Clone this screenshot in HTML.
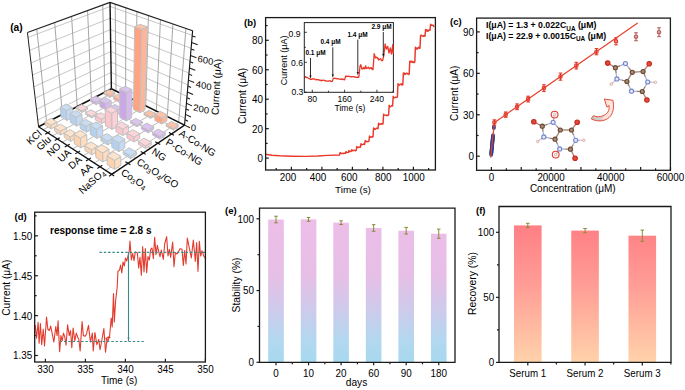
<!DOCTYPE html>
<html><head><meta charset="utf-8"><style>
html,body{margin:0;padding:0;background:#fff;}
svg{display:block;font-family:"Liberation Sans",sans-serif;}
</style></head><body>
<svg width="685" height="390" viewBox="0 0 685 390">
<rect width="685" height="390" fill="#fff"/>
<text id="t1" x="10.2" y="30.6" font-size="10.2" text-anchor="start" font-weight="bold" fill="#000" >(a)</text>
<polygon points="38.55,126.73 111.38,88.77 110.03,2.36 27.44,32.51" fill="#fff"/>
<polygon points="111.38,88.77 184.56,125.15 192.62,30.66 110.03,2.36" fill="#fff"/>
<line x1="37.77" y1="120.11" x2="111.28" y2="82.32" stroke="#b4b4b4" stroke-width="0.75" />
<line x1="111.28" y1="82.32" x2="185.15" y2="118.3" stroke="#b4b4b4" stroke-width="0.75" />
<line x1="36.5" y1="109.35" x2="111.12" y2="72.33" stroke="#b4b4b4" stroke-width="0.75" />
<line x1="111.12" y1="72.33" x2="186.07" y2="107.5" stroke="#b4b4b4" stroke-width="0.75" />
<line x1="35.19" y1="98.26" x2="110.96" y2="62.08" stroke="#b4b4b4" stroke-width="0.75" />
<line x1="110.96" y1="62.08" x2="187.02" y2="96.38" stroke="#b4b4b4" stroke-width="0.75" />
<line x1="33.85" y1="86.84" x2="110.8" y2="51.55" stroke="#b4b4b4" stroke-width="0.75" />
<line x1="110.8" y1="51.55" x2="187.99" y2="84.91" stroke="#b4b4b4" stroke-width="0.75" />
<line x1="32.46" y1="75.05" x2="110.63" y2="40.73" stroke="#b4b4b4" stroke-width="0.75" />
<line x1="110.63" y1="40.73" x2="189" y2="73.09" stroke="#b4b4b4" stroke-width="0.75" />
<line x1="31.02" y1="62.9" x2="110.45" y2="29.62" stroke="#b4b4b4" stroke-width="0.75" />
<line x1="110.45" y1="29.62" x2="190.04" y2="60.9" stroke="#b4b4b4" stroke-width="0.75" />
<line x1="29.54" y1="50.36" x2="110.27" y2="18.19" stroke="#b4b4b4" stroke-width="0.75" />
<line x1="110.27" y1="18.19" x2="191.11" y2="48.31" stroke="#b4b4b4" stroke-width="0.75" />
<line x1="28.02" y1="37.41" x2="110.09" y2="6.44" stroke="#b4b4b4" stroke-width="0.75" />
<line x1="110.09" y1="6.44" x2="192.22" y2="35.31" stroke="#b4b4b4" stroke-width="0.75" />
<line x1="46.68" y1="122.49" x2="36.78" y2="29.1" stroke="#9c9c9c" stroke-width="0.9" />
<line x1="62.33" y1="114.34" x2="54.67" y2="22.57" stroke="#9c9c9c" stroke-width="0.9" />
<line x1="77.21" y1="106.58" x2="71.58" y2="16.4" stroke="#9c9c9c" stroke-width="0.9" />
<line x1="91.37" y1="99.2" x2="87.58" y2="10.56" stroke="#9c9c9c" stroke-width="0.9" />
<line x1="104.87" y1="92.16" x2="102.74" y2="5.02" stroke="#9c9c9c" stroke-width="0.9" />
<line x1="116.04" y1="91.08" x2="115.21" y2="4.14" stroke="#9c9c9c" stroke-width="0.9" />
<line x1="125.59" y1="95.83" x2="125.87" y2="7.79" stroke="#9c9c9c" stroke-width="0.9" />
<line x1="135.48" y1="100.75" x2="136.95" y2="11.59" stroke="#9c9c9c" stroke-width="0.9" />
<line x1="145.71" y1="105.84" x2="148.46" y2="15.53" stroke="#9c9c9c" stroke-width="0.9" />
<line x1="156.32" y1="111.11" x2="160.44" y2="19.64" stroke="#9c9c9c" stroke-width="0.9" />
<line x1="167.31" y1="116.57" x2="172.91" y2="23.91" stroke="#9c9c9c" stroke-width="0.9" />
<line x1="178.7" y1="122.24" x2="185.91" y2="28.37" stroke="#9c9c9c" stroke-width="0.9" />
<line x1="43.14" y1="129.71" x2="116.04" y2="91.08" stroke="#aaaaaa" stroke-width="0.8" />
<line x1="52.57" y1="135.85" x2="125.59" y2="95.83" stroke="#aaaaaa" stroke-width="0.8" />
<line x1="62.37" y1="142.23" x2="135.48" y2="100.75" stroke="#aaaaaa" stroke-width="0.8" />
<line x1="72.57" y1="148.86" x2="145.71" y2="105.84" stroke="#aaaaaa" stroke-width="0.8" />
<line x1="83.19" y1="155.77" x2="156.32" y2="111.11" stroke="#aaaaaa" stroke-width="0.8" />
<line x1="94.25" y1="162.97" x2="167.31" y2="116.57" stroke="#aaaaaa" stroke-width="0.8" />
<line x1="105.79" y1="170.47" x2="178.7" y2="122.24" stroke="#aaaaaa" stroke-width="0.8" />
<line x1="46.68" y1="122.49" x2="120" y2="168.77" stroke="#aaaaaa" stroke-width="0.8" />
<line x1="62.33" y1="114.34" x2="135.8" y2="158.1" stroke="#aaaaaa" stroke-width="0.8" />
<line x1="77.21" y1="106.58" x2="150.71" y2="148.02" stroke="#aaaaaa" stroke-width="0.8" />
<line x1="91.37" y1="99.2" x2="164.8" y2="138.5" stroke="#aaaaaa" stroke-width="0.8" />
<line x1="104.87" y1="92.16" x2="178.15" y2="129.48" stroke="#aaaaaa" stroke-width="0.8" />
<line x1="27.44" y1="32.51" x2="110.03" y2="2.36" stroke="#222" stroke-width="1.1" />
<line x1="110.03" y1="2.36" x2="192.62" y2="30.66" stroke="#222" stroke-width="1.1" />
<line x1="38.55" y1="126.73" x2="27.44" y2="32.51" stroke="#222" stroke-width="1.0" />
<line x1="111.38" y1="88.77" x2="110.03" y2="2.36" stroke="#111" stroke-width="1.4" />
<line x1="111.38" y1="88.77" x2="38.55" y2="126.73" stroke="#111" stroke-width="1.5" />
<line x1="111.38" y1="88.77" x2="184.56" y2="125.15" stroke="#111" stroke-width="1.5" />
<line x1="184.56" y1="125.15" x2="192.62" y2="30.66" stroke="#111" stroke-width="1.1" />
<line x1="184.56" y1="125.15" x2="189.93" y2="127.82" stroke="#1a1a1a" stroke-width="1.05" />
<line x1="185.02" y1="119.82" x2="188.01" y2="121.28" stroke="#1a1a1a" stroke-width="1.05" />
<line x1="185.48" y1="114.4" x2="190.94" y2="117.02" stroke="#1a1a1a" stroke-width="1.05" />
<line x1="185.95" y1="108.91" x2="188.99" y2="110.34" stroke="#1a1a1a" stroke-width="1.05" />
<line x1="186.42" y1="103.33" x2="191.97" y2="105.89" stroke="#1a1a1a" stroke-width="1.05" />
<line x1="186.91" y1="97.67" x2="190" y2="99.07" stroke="#1a1a1a" stroke-width="1.05" />
<line x1="187.4" y1="91.92" x2="193.04" y2="94.41" stroke="#1a1a1a" stroke-width="1.05" />
<line x1="187.89" y1="86.08" x2="191.04" y2="87.44" stroke="#1a1a1a" stroke-width="1.05" />
<line x1="188.4" y1="80.14" x2="194.14" y2="82.57" stroke="#1a1a1a" stroke-width="1.05" />
<line x1="188.91" y1="74.12" x2="192.12" y2="75.44" stroke="#1a1a1a" stroke-width="1.05" />
<line x1="189.44" y1="68" x2="195.28" y2="70.36" stroke="#1a1a1a" stroke-width="1.05" />
<line x1="189.97" y1="61.78" x2="193.23" y2="63.06" stroke="#1a1a1a" stroke-width="1.05" />
<line x1="190.5" y1="55.46" x2="196.45" y2="57.74" stroke="#1a1a1a" stroke-width="1.05" />
<line x1="191.05" y1="49.04" x2="194.37" y2="50.28" stroke="#1a1a1a" stroke-width="1.05" />
<line x1="191.61" y1="42.51" x2="197.67" y2="44.71" stroke="#1a1a1a" stroke-width="1.05" />
<line x1="192.17" y1="35.88" x2="195.56" y2="37.07" stroke="#1a1a1a" stroke-width="1.05" />
<polygon points="104.08,94.37 109.96,97.39 109.93,95.41 104.03,92.4" fill="#ffa382" stroke="#c2c2c2" stroke-width="1.0" stroke-linejoin="round"/>
<polygon points="109.96,97.39 114.97,94.71 114.95,92.74 109.93,95.41" fill="#ffb698" stroke="#c2c2c2" stroke-width="1.0" stroke-linejoin="round"/>
<polygon points="104.03,92.4 109.93,95.41 114.95,92.74 109.06,89.78" fill="#ffc2a8" stroke="#c2c2c2" stroke-width="1.0" stroke-linejoin="round"/>
<polygon points="90.46,101.51 96.34,104.69 96.24,102.17 90.35,99.01" fill="#caa8e8" stroke="#c2c2c2" stroke-width="1.0" stroke-linejoin="round"/>
<polygon points="96.34,104.69 101.59,101.87 101.52,99.37 96.24,102.17" fill="#d6baee" stroke="#c2c2c2" stroke-width="1.0" stroke-linejoin="round"/>
<polygon points="90.35,99.01 96.24,102.17 101.52,99.37 95.62,96.27" fill="#dcc4f0" stroke="#c2c2c2" stroke-width="1.0" stroke-linejoin="round"/>
<polygon points="113.54,99.23 119.63,102.35 119.61,99.85 113.51,96.74" fill="#ffa382" stroke="#c2c2c2" stroke-width="1.0" stroke-linejoin="round"/>
<polygon points="119.63,102.35 124.63,99.58 124.64,97.09 119.61,99.85" fill="#ffb698" stroke="#c2c2c2" stroke-width="1.0" stroke-linejoin="round"/>
<polygon points="113.51,96.74 119.61,99.85 124.64,97.09 118.53,94.04" fill="#ffc2a8" stroke="#c2c2c2" stroke-width="1.0" stroke-linejoin="round"/>
<polygon points="76.16,109.01 82.02,112.35 81.94,110.82 76.06,107.49" fill="#fbc6cc" stroke="#c2c2c2" stroke-width="1.0" stroke-linejoin="round"/>
<polygon points="82.02,112.35 87.55,109.39 87.47,107.87 81.94,110.82" fill="#fcd0d6" stroke="#c2c2c2" stroke-width="1.0" stroke-linejoin="round"/>
<polygon points="76.06,107.49 81.94,110.82 87.47,107.87 81.59,104.61" fill="#fdd6dc" stroke="#c2c2c2" stroke-width="1.0" stroke-linejoin="round"/>
<polygon points="99.91,106.62 105.99,109.9 105.84,103.57 99.71,100.33" fill="#caa8e8" stroke="#c2c2c2" stroke-width="1.0" stroke-linejoin="round"/>
<polygon points="105.99,109.9 111.25,106.99 111.15,100.7 105.84,103.57" fill="#d6baee" stroke="#c2c2c2" stroke-width="1.0" stroke-linejoin="round"/>
<polygon points="99.71,100.33 105.84,103.57 111.15,100.7 105.01,97.51" fill="#dcc4f0" stroke="#c2c2c2" stroke-width="1.0" stroke-linejoin="round"/>
<polygon points="123.33,104.26 129.63,107.49 129.65,104.97 123.33,101.74" fill="#ffa382" stroke="#c2c2c2" stroke-width="1.0" stroke-linejoin="round"/>
<polygon points="129.63,107.49 134.63,104.62 134.67,102.11 129.65,104.97" fill="#ffb698" stroke="#c2c2c2" stroke-width="1.0" stroke-linejoin="round"/>
<polygon points="123.33,101.74 129.65,104.97 134.67,102.11 128.35,98.95" fill="#ffc2a8" stroke="#c2c2c2" stroke-width="1.0" stroke-linejoin="round"/>
<polygon points="61.14,116.89 66.97,120.4 66.2,110.48 60.29,107.03" fill="#b4d2f0" stroke="#c2c2c2" stroke-width="1.0" stroke-linejoin="round"/>
<polygon points="66.97,120.4 72.78,117.3 72.1,107.42 66.2,110.48" fill="#c2daf3" stroke="#c2c2c2" stroke-width="1.0" stroke-linejoin="round"/>
<polygon points="60.29,107.03 66.2,110.48 72.1,107.42 66.18,104.04" fill="#c8ddf4" stroke="#c2c2c2" stroke-width="1.0" stroke-linejoin="round"/>
<polygon points="85.59,114.38 91.67,117.84 91.6,116.3 85.51,112.85" fill="#fbc6cc" stroke="#c2c2c2" stroke-width="1.0" stroke-linejoin="round"/>
<polygon points="91.67,117.84 97.2,114.78 97.14,113.24 91.6,116.3" fill="#fcd0d6" stroke="#c2c2c2" stroke-width="1.0" stroke-linejoin="round"/>
<polygon points="85.51,112.85 91.6,116.3 97.14,113.24 91.05,109.86" fill="#fdd6dc" stroke="#c2c2c2" stroke-width="1.0" stroke-linejoin="round"/>
<polygon points="109.69,111.9 116,115.31 115.96,110.68 109.61,107.3" fill="#caa8e8" stroke="#c2c2c2" stroke-width="1.0" stroke-linejoin="round"/>
<polygon points="116,115.31 121.26,112.3 121.25,107.69 115.96,110.68" fill="#d6baee" stroke="#c2c2c2" stroke-width="1.0" stroke-linejoin="round"/>
<polygon points="109.61,107.3 115.96,110.68 121.25,107.69 114.9,104.38" fill="#dcc4f0" stroke="#c2c2c2" stroke-width="1.0" stroke-linejoin="round"/>
<polygon points="133.46,109.46 139.99,112.82 141.9,29.36 134.61,26.67" fill="#ffa382" stroke="#c2c2c2" stroke-width="1.0" stroke-linejoin="round"/>
<polygon points="139.99,112.82 144.99,109.85 147.44,26.93 141.9,29.36" fill="#ffb698" stroke="#c2c2c2" stroke-width="1.0" stroke-linejoin="round"/>
<polygon points="134.61,26.67 141.9,29.36 147.44,26.93 140.16,24.29" fill="#ffc2a8" stroke="#c2c2c2" stroke-width="1.0" stroke-linejoin="round"/>
<polygon points="45.33,125.18 51.13,128.89 50.76,125.21 44.93,121.53" fill="#fdd3b0" stroke="#c2c2c2" stroke-width="1.0" stroke-linejoin="round"/>
<polygon points="51.13,128.89 57.25,125.61 56.91,121.95 50.76,125.21" fill="#fddcc0" stroke="#c2c2c2" stroke-width="1.0" stroke-linejoin="round"/>
<polygon points="44.93,121.53 50.76,125.21 56.91,121.95 51.07,118.35" fill="#fde2cc" stroke="#c2c2c2" stroke-width="1.0" stroke-linejoin="round"/>
<polygon points="70.53,122.54 76.59,126.19 76.01,117.23 69.88,113.64" fill="#b4d2f0" stroke="#c2c2c2" stroke-width="1.0" stroke-linejoin="round"/>
<polygon points="76.59,126.19 82.41,122.97 81.9,114.05 76.01,117.23" fill="#c2daf3" stroke="#c2c2c2" stroke-width="1.0" stroke-linejoin="round"/>
<polygon points="69.88,113.64 76.01,117.23 81.9,114.05 75.77,110.54" fill="#c8ddf4" stroke="#c2c2c2" stroke-width="1.0" stroke-linejoin="round"/>
<polygon points="95.36,119.95 101.67,123.54 101.54,119.36 95.2,115.8" fill="#fbc6cc" stroke="#c2c2c2" stroke-width="1.0" stroke-linejoin="round"/>
<polygon points="101.67,123.54 107.2,120.36 107.11,116.21 101.54,119.36" fill="#fcd0d6" stroke="#c2c2c2" stroke-width="1.0" stroke-linejoin="round"/>
<polygon points="95.2,115.8 101.54,119.36 107.11,116.21 100.77,112.72" fill="#fdd6dc" stroke="#c2c2c2" stroke-width="1.0" stroke-linejoin="round"/>
<polygon points="119.84,117.39 126.38,120.92 126.51,92.44 119.71,89.11" fill="#caa8e8" stroke="#c2c2c2" stroke-width="1.0" stroke-linejoin="round"/>
<polygon points="126.38,120.92 131.64,117.8 131.96,89.48 126.51,92.44" fill="#d6baee" stroke="#c2c2c2" stroke-width="1.0" stroke-linejoin="round"/>
<polygon points="119.71,89.11 126.51,92.44 131.96,89.48 125.17,86.22" fill="#dcc4f0" stroke="#c2c2c2" stroke-width="1.0" stroke-linejoin="round"/>
<polygon points="143.97,114.86 150.74,118.34 150.8,116.8 144.01,113.33" fill="#ffa382" stroke="#c2c2c2" stroke-width="1.0" stroke-linejoin="round"/>
<polygon points="150.74,118.34 155.72,115.26 155.79,113.72 150.8,116.8" fill="#ffb698" stroke="#c2c2c2" stroke-width="1.0" stroke-linejoin="round"/>
<polygon points="144.01,113.33 150.8,116.8 155.79,113.72 149.01,110.32" fill="#ffc2a8" stroke="#c2c2c2" stroke-width="1.0" stroke-linejoin="round"/>
<polygon points="54.67,131.14 60.7,134.99 60.37,131.28 54.31,127.45" fill="#fdd3b0" stroke="#c2c2c2" stroke-width="1.0" stroke-linejoin="round"/>
<polygon points="60.7,134.99 66.84,131.59 66.54,127.9 60.37,131.28" fill="#fddcc0" stroke="#c2c2c2" stroke-width="1.0" stroke-linejoin="round"/>
<polygon points="54.31,127.45 60.37,131.28 66.54,127.9 60.47,124.15" fill="#fde2cc" stroke="#c2c2c2" stroke-width="1.0" stroke-linejoin="round"/>
<polygon points="80.28,128.41 86.57,132.2 86.27,126.36 79.93,122.61" fill="#b4d2f0" stroke="#c2c2c2" stroke-width="1.0" stroke-linejoin="round"/>
<polygon points="86.57,132.2 92.4,128.86 92.15,123.05 86.27,126.36" fill="#c2daf3" stroke="#c2c2c2" stroke-width="1.0" stroke-linejoin="round"/>
<polygon points="79.93,122.61 86.27,126.36 92.15,123.05 85.8,119.38" fill="#c8ddf4" stroke="#c2c2c2" stroke-width="1.0" stroke-linejoin="round"/>
<polygon points="105.5,125.72 112.05,129.45 111.8,113.36 105.11,109.75" fill="#fbc6cc" stroke="#c2c2c2" stroke-width="1.0" stroke-linejoin="round"/>
<polygon points="112.05,129.45 117.58,126.16 117.46,110.16 111.8,113.36" fill="#fcd0d6" stroke="#c2c2c2" stroke-width="1.0" stroke-linejoin="round"/>
<polygon points="105.11,109.75 111.8,113.36 117.46,110.16 110.77,106.62" fill="#fdd6dc" stroke="#c2c2c2" stroke-width="1.0" stroke-linejoin="round"/>
<polygon points="130.36,123.07 137.15,126.74 137.18,125.17 130.38,121.51" fill="#caa8e8" stroke="#c2c2c2" stroke-width="1.0" stroke-linejoin="round"/>
<polygon points="137.15,126.74 142.4,123.5 142.44,121.94 137.18,125.17" fill="#d6baee" stroke="#c2c2c2" stroke-width="1.0" stroke-linejoin="round"/>
<polygon points="130.38,121.51 137.18,125.17 142.44,121.94 135.64,118.35" fill="#dcc4f0" stroke="#c2c2c2" stroke-width="1.0" stroke-linejoin="round"/>
<polygon points="154.86,120.46 161.89,124.07 162.21,117.98 155.12,114.41" fill="#ffa382" stroke="#c2c2c2" stroke-width="1.0" stroke-linejoin="round"/>
<polygon points="161.89,124.07 166.85,120.88 167.21,114.82 162.21,117.98" fill="#ffb698" stroke="#c2c2c2" stroke-width="1.0" stroke-linejoin="round"/>
<polygon points="155.12,114.41 162.21,117.98 167.21,114.82 160.14,111.33" fill="#ffc2a8" stroke="#c2c2c2" stroke-width="1.0" stroke-linejoin="round"/>
<polygon points="64.37,137.34 70.64,141.34 70.32,137.04 64.02,133.07" fill="#fdd3b0" stroke="#c2c2c2" stroke-width="1.0" stroke-linejoin="round"/>
<polygon points="70.64,141.34 76.79,137.81 76.51,133.54 70.32,137.04" fill="#fddcc0" stroke="#c2c2c2" stroke-width="1.0" stroke-linejoin="round"/>
<polygon points="64.02,133.07 70.32,137.04 76.51,133.54 70.2,129.65" fill="#fde2cc" stroke="#c2c2c2" stroke-width="1.0" stroke-linejoin="round"/>
<polygon points="90.4,134.51 96.94,138.45 96.6,129.29 89.98,125.41" fill="#b4d2f0" stroke="#c2c2c2" stroke-width="1.0" stroke-linejoin="round"/>
<polygon points="96.94,138.45 102.78,134.97 102.51,125.86 96.6,129.29" fill="#c2daf3" stroke="#c2c2c2" stroke-width="1.0" stroke-linejoin="round"/>
<polygon points="89.98,125.41 96.6,129.29 102.51,125.86 95.89,122.07" fill="#c8ddf4" stroke="#c2c2c2" stroke-width="1.0" stroke-linejoin="round"/>
<polygon points="116.03,131.72 122.83,135.59 122.83,129.18 115.97,125.35" fill="#fbc6cc" stroke="#c2c2c2" stroke-width="1.0" stroke-linejoin="round"/>
<polygon points="122.83,135.59 128.37,132.17 128.41,125.79 122.83,129.18" fill="#fcd0d6" stroke="#c2c2c2" stroke-width="1.0" stroke-linejoin="round"/>
<polygon points="115.97,125.35 122.83,129.18 128.41,125.79 121.55,122.04" fill="#fdd6dc" stroke="#c2c2c2" stroke-width="1.0" stroke-linejoin="round"/>
<polygon points="141.29,128.98 148.34,132.79 148.43,130.14 141.35,126.34" fill="#caa8e8" stroke="#c2c2c2" stroke-width="1.0" stroke-linejoin="round"/>
<polygon points="148.34,132.79 153.57,129.42 153.68,126.79 148.43,130.14" fill="#d6baee" stroke="#c2c2c2" stroke-width="1.0" stroke-linejoin="round"/>
<polygon points="141.35,126.34 148.43,130.14 153.68,126.79 146.61,123.07" fill="#dcc4f0" stroke="#c2c2c2" stroke-width="1.0" stroke-linejoin="round"/>
<polygon points="166.16,126.27 173.46,130.02 173.57,128.44 166.26,124.7" fill="#ffa382" stroke="#c2c2c2" stroke-width="1.0" stroke-linejoin="round"/>
<polygon points="173.46,130.02 178.4,126.71 178.52,125.13 173.57,128.44" fill="#ffb698" stroke="#c2c2c2" stroke-width="1.0" stroke-linejoin="round"/>
<polygon points="166.26,124.7 173.57,128.44 178.52,125.13 171.22,121.47" fill="#ffc2a8" stroke="#c2c2c2" stroke-width="1.0" stroke-linejoin="round"/>
<polygon points="74.46,143.78 80.98,147.94 80.38,138.09 73.78,134" fill="#fdd3b0" stroke="#c2c2c2" stroke-width="1.0" stroke-linejoin="round"/>
<polygon points="80.98,147.94 87.15,144.27 86.64,134.48 80.38,138.09" fill="#fddcc0" stroke="#c2c2c2" stroke-width="1.0" stroke-linejoin="round"/>
<polygon points="73.78,134 80.38,138.09 86.64,134.48 80.03,130.47" fill="#fde2cc" stroke="#c2c2c2" stroke-width="1.0" stroke-linejoin="round"/>
<polygon points="100.92,140.84 107.72,144.94 107.64,141.15 100.8,137.09" fill="#b4d2f0" stroke="#c2c2c2" stroke-width="1.0" stroke-linejoin="round"/>
<polygon points="107.72,144.94 113.56,141.33 113.51,137.56 107.64,141.15" fill="#c2daf3" stroke="#c2c2c2" stroke-width="1.0" stroke-linejoin="round"/>
<polygon points="100.8,137.09 107.64,141.15 113.51,137.56 106.67,133.58" fill="#c8ddf4" stroke="#c2c2c2" stroke-width="1.0" stroke-linejoin="round"/>
<polygon points="126.98,137.95 134.04,141.98 134.12,137.13 127,133.13" fill="#fbc6cc" stroke="#c2c2c2" stroke-width="1.0" stroke-linejoin="round"/>
<polygon points="134.04,141.98 139.57,138.43 139.68,133.6 134.12,137.13" fill="#fcd0d6" stroke="#c2c2c2" stroke-width="1.0" stroke-linejoin="round"/>
<polygon points="127,133.13 134.12,137.13 139.68,133.6 132.57,129.69" fill="#fdd6dc" stroke="#c2c2c2" stroke-width="1.0" stroke-linejoin="round"/>
<polygon points="152.63,135.11 159.96,139.07 160.1,136.39 152.74,132.45" fill="#caa8e8" stroke="#c2c2c2" stroke-width="1.0" stroke-linejoin="round"/>
<polygon points="159.96,139.07 165.18,135.57 165.33,132.91 160.1,136.39" fill="#d6baee" stroke="#c2c2c2" stroke-width="1.0" stroke-linejoin="round"/>
<polygon points="152.74,132.45 160.1,136.39 165.33,132.91 157.99,129.05" fill="#dcc4f0" stroke="#c2c2c2" stroke-width="1.0" stroke-linejoin="round"/>
<polygon points="84.95,150.48 91.74,154.81 91.52,149.87 84.68,145.57" fill="#fdd3b0" stroke="#c2c2c2" stroke-width="1.0" stroke-linejoin="round"/>
<polygon points="91.74,154.81 97.92,151 97.74,146.08 91.52,149.87" fill="#fddcc0" stroke="#c2c2c2" stroke-width="1.0" stroke-linejoin="round"/>
<polygon points="84.68,145.57 91.52,149.87 97.74,146.08 90.9,141.87" fill="#fde2cc" stroke="#c2c2c2" stroke-width="1.0" stroke-linejoin="round"/>
<polygon points="111.86,147.43 118.94,151.69 118.89,142.89 111.72,138.69" fill="#b4d2f0" stroke="#c2c2c2" stroke-width="1.0" stroke-linejoin="round"/>
<polygon points="118.94,151.69 124.78,147.94 124.8,139.18 118.89,142.89" fill="#c2daf3" stroke="#c2c2c2" stroke-width="1.0" stroke-linejoin="round"/>
<polygon points="111.72,138.69 118.89,142.89 124.8,139.18 117.64,135.07" fill="#c8ddf4" stroke="#c2c2c2" stroke-width="1.0" stroke-linejoin="round"/>
<polygon points="138.35,144.43 145.71,148.62 145.79,145.91 138.41,141.73" fill="#fbc6cc" stroke="#c2c2c2" stroke-width="1.0" stroke-linejoin="round"/>
<polygon points="145.71,148.62 151.22,144.93 151.32,142.23 145.79,145.91" fill="#fcd0d6" stroke="#c2c2c2" stroke-width="1.0" stroke-linejoin="round"/>
<polygon points="138.41,141.73 145.79,145.91 151.32,142.23 143.95,138.14" fill="#fdd6dc" stroke="#c2c2c2" stroke-width="1.0" stroke-linejoin="round"/>
<polygon points="95.88,157.46 102.96,161.97 102.69,153.05 95.53,148.59" fill="#fdd3b0" stroke="#c2c2c2" stroke-width="1.0" stroke-linejoin="round"/>
<polygon points="102.96,161.97 109.14,158 108.96,149.12 102.69,153.05" fill="#fddcc0" stroke="#c2c2c2" stroke-width="1.0" stroke-linejoin="round"/>
<polygon points="95.53,148.59 102.69,153.05 108.96,149.12 101.79,144.76" fill="#fde2cc" stroke="#c2c2c2" stroke-width="1.0" stroke-linejoin="round"/>
<polygon points="123.26,154.29 130.63,158.73 130.66,155.97 123.26,151.55" fill="#b4d2f0" stroke="#c2c2c2" stroke-width="1.0" stroke-linejoin="round"/>
<polygon points="130.63,158.73 136.46,154.82 136.51,152.08 130.66,155.97" fill="#c2daf3" stroke="#c2c2c2" stroke-width="1.0" stroke-linejoin="round"/>
<polygon points="123.26,151.55 130.66,155.97 136.51,152.08 129.12,147.76" fill="#c8ddf4" stroke="#c2c2c2" stroke-width="1.0" stroke-linejoin="round"/>
<polygon points="107.27,164.73 114.65,169.44 114.54,160.42 107.06,155.77" fill="#fdd3b0" stroke="#c2c2c2" stroke-width="1.0" stroke-linejoin="round"/>
<polygon points="114.65,169.44 120.83,165.29 120.8,156.32 114.54,160.42" fill="#fddcc0" stroke="#c2c2c2" stroke-width="1.0" stroke-linejoin="round"/>
<polygon points="107.06,155.77 114.54,160.42 120.8,156.32 113.33,151.78" fill="#fde2cc" stroke="#c2c2c2" stroke-width="1.0" stroke-linejoin="round"/>
<line x1="38.55" y1="126.73" x2="111.74" y2="174.35" stroke="#111" stroke-width="1.3" />
<line x1="111.74" y1="174.35" x2="184.56" y2="125.15" stroke="#111" stroke-width="1.3" />
<line x1="45.15" y1="134.18" x2="50.11" y2="131.51" stroke="#111" stroke-width="1.1" />
<line x1="54.76" y1="140.49" x2="59.74" y2="137.72" stroke="#111" stroke-width="1.1" />
<line x1="64.75" y1="147.06" x2="69.75" y2="144.17" stroke="#111" stroke-width="1.1" />
<line x1="75.14" y1="153.89" x2="80.16" y2="150.89" stroke="#111" stroke-width="1.1" />
<line x1="85.98" y1="161.01" x2="91" y2="157.88" stroke="#111" stroke-width="1.1" />
<line x1="97.27" y1="168.43" x2="102.3" y2="165.17" stroke="#111" stroke-width="1.1" />
<line x1="109.05" y1="176.17" x2="114.08" y2="172.77" stroke="#111" stroke-width="1.1" />
<line x1="109.11" y1="172.63" x2="114.16" y2="175.92" stroke="#111" stroke-width="1.1" />
<line x1="125.38" y1="161.74" x2="130.43" y2="164.84" stroke="#111" stroke-width="1.1" />
<line x1="140.73" y1="151.47" x2="145.77" y2="154.38" stroke="#111" stroke-width="1.1" />
<line x1="155.23" y1="141.76" x2="160.25" y2="144.51" stroke="#111" stroke-width="1.1" />
<line x1="168.96" y1="132.57" x2="173.96" y2="135.18" stroke="#111" stroke-width="1.1" />
<text id="sp0" x="42.34" y="134.41" font-size="10" text-anchor="end" transform="rotate(-42 42.34 134.41)">KCl</text>
<text id="sp1" x="51.77" y="140.55" font-size="10" text-anchor="end" transform="rotate(-42 51.77 140.55)">Glu</text>
<text id="sp2" x="61.57" y="146.93" font-size="10" text-anchor="end" transform="rotate(-42 61.57 146.93)">NO</text>
<text id="sp3" x="71.77" y="153.56" font-size="10" text-anchor="end" transform="rotate(-42 71.77 153.56)">UA</text>
<text id="sp4" x="82.39" y="160.47" font-size="10" text-anchor="end" transform="rotate(-42 82.39 160.47)">DA</text>
<text id="sp5" x="93.45" y="167.67" font-size="10" text-anchor="end" transform="rotate(-42 93.45 167.67)">AA</text>
<text id="sp6" x="105.79" y="173.67" font-size="10" text-anchor="end" transform="rotate(-42 105.79 173.67)">NaSO<tspan font-size="7.2" dy="2">4</tspan></text>
<text id="mt0" x="120.2" y="174.37" font-size="10" text-anchor="start" transform="rotate(32 120.2 174.37)">Co<tspan font-size="7.2" dy="2">3</tspan><tspan dy="-2">O</tspan><tspan font-size="7.2" dy="2">4</tspan></text>
<text id="mt1" x="136" y="163.7" font-size="10" text-anchor="start" transform="rotate(32 136 163.7)">Co<tspan font-size="7.2" dy="2">3</tspan><tspan dy="-2">O</tspan><tspan font-size="7.2" dy="2">4</tspan><tspan dy="-2">/GO</tspan></text>
<text id="mt2" x="150.91" y="153.62" font-size="10" text-anchor="start" transform="rotate(32 150.91 153.62)">NG</text>
<text id="mt3" x="165" y="144.1" font-size="10" text-anchor="start" transform="rotate(32 165 144.1)">P-Co-NG</text>
<text id="mt4" x="178.35" y="135.08" font-size="10" text-anchor="start" transform="rotate(32 178.35 135.08)">A-Co-NG</text>
<g id="z0" transform="translate(193.6 127.6) skewY(14) skewX(-6)"><text id="t2" x="0" y="0" font-size="9.4" text-anchor="middle" dominant-baseline="central">0</text></g>
<g id="z200" transform="translate(201.3 108.7) skewY(14) skewX(-6)"><text id="t3" x="0" y="0" font-size="9.4" text-anchor="middle" dominant-baseline="central">200</text></g>
<g id="z400" transform="translate(203.8 85.2) skewY(14) skewX(-6)"><text id="t4" x="0" y="0" font-size="9.4" text-anchor="middle" dominant-baseline="central">400</text></g>
<g id="z600" transform="translate(205.4 60) skewY(14) skewX(-6)"><text id="t5" x="0" y="0" font-size="9.4" text-anchor="middle" dominant-baseline="central">600</text></g>
<text id="zt" x="216.4" y="87" font-size="10.2" text-anchor="middle" dominant-baseline="central" transform="rotate(-87 216.4 87)">Current (μA)</text>
<text id="t6" x="244" y="25.5" font-size="9.5" text-anchor="start" font-weight="bold" fill="#000" >(b)</text>
<line x1="276.15" y1="170" x2="276.15" y2="168" stroke="#1a1a1a" stroke-width="1.2" />
<line x1="291.4" y1="170" x2="291.4" y2="166.8" stroke="#1a1a1a" stroke-width="1.2" />
<line x1="306.65" y1="170" x2="306.65" y2="168" stroke="#1a1a1a" stroke-width="1.2" />
<line x1="321.9" y1="170" x2="321.9" y2="166.8" stroke="#1a1a1a" stroke-width="1.2" />
<line x1="337.15" y1="170" x2="337.15" y2="168" stroke="#1a1a1a" stroke-width="1.2" />
<line x1="352.4" y1="170" x2="352.4" y2="166.8" stroke="#1a1a1a" stroke-width="1.2" />
<line x1="367.65" y1="170" x2="367.65" y2="168" stroke="#1a1a1a" stroke-width="1.2" />
<line x1="382.9" y1="170" x2="382.9" y2="166.8" stroke="#1a1a1a" stroke-width="1.2" />
<line x1="398.15" y1="170" x2="398.15" y2="168" stroke="#1a1a1a" stroke-width="1.2" />
<line x1="413.4" y1="170" x2="413.4" y2="166.8" stroke="#1a1a1a" stroke-width="1.2" />
<line x1="428.65" y1="170" x2="428.65" y2="168" stroke="#1a1a1a" stroke-width="1.2" />
<text id="t7" transform="translate(288 180.8) scale(0.95 1)" x="0" y="0" font-size="10.4" text-anchor="middle" >200</text>
<text id="t8" transform="translate(317.9 180.8) scale(0.95 1)" x="0" y="0" font-size="10.4" text-anchor="middle" >400</text>
<text id="t9" transform="translate(349.3 180.8) scale(0.95 1)" x="0" y="0" font-size="10.4" text-anchor="middle" >600</text>
<text id="t10" transform="translate(383.3 180.8) scale(0.95 1)" x="0" y="0" font-size="10.4" text-anchor="middle" >800</text>
<text id="t11" transform="translate(413.7 180.8) scale(0.95 1)" x="0" y="0" font-size="10.4" text-anchor="middle" >1000</text>
<line x1="265.6" y1="158.1" x2="268.8" y2="158.1" stroke="#1a1a1a" stroke-width="1.2" />
<line x1="265.6" y1="143.38" x2="267.6" y2="143.38" stroke="#1a1a1a" stroke-width="1.2" />
<line x1="265.6" y1="128.65" x2="268.8" y2="128.65" stroke="#1a1a1a" stroke-width="1.2" />
<line x1="265.6" y1="113.92" x2="267.6" y2="113.92" stroke="#1a1a1a" stroke-width="1.2" />
<line x1="265.6" y1="99.2" x2="268.8" y2="99.2" stroke="#1a1a1a" stroke-width="1.2" />
<line x1="265.6" y1="84.47" x2="267.6" y2="84.47" stroke="#1a1a1a" stroke-width="1.2" />
<line x1="265.6" y1="69.75" x2="268.8" y2="69.75" stroke="#1a1a1a" stroke-width="1.2" />
<line x1="265.6" y1="55.03" x2="267.6" y2="55.03" stroke="#1a1a1a" stroke-width="1.2" />
<line x1="265.6" y1="40.3" x2="268.8" y2="40.3" stroke="#1a1a1a" stroke-width="1.2" />
<line x1="265.6" y1="25.57" x2="267.6" y2="25.57" stroke="#1a1a1a" stroke-width="1.2" />
<text id="t12" transform="translate(263 162.2) scale(0.95 1)" x="0" y="0" font-size="10.4" text-anchor="end" >0</text>
<text id="t13" transform="translate(263 132.75) scale(0.95 1)" x="0" y="0" font-size="10.4" text-anchor="end" >20</text>
<text id="t14" transform="translate(263 103.3) scale(0.95 1)" x="0" y="0" font-size="10.4" text-anchor="end" >40</text>
<text id="t15" transform="translate(263 73.85) scale(0.95 1)" x="0" y="0" font-size="10.4" text-anchor="end" >60</text>
<text id="t16" transform="translate(263 44.4) scale(0.95 1)" x="0" y="0" font-size="10.4" text-anchor="end" >80</text>
<text id="t17" x="353" y="193" font-size="9.9" text-anchor="middle" font-weight="normal" fill="#000" >Time (s)</text>
<text id="t18" x="246.3" y="95.9" font-size="10.2" text-anchor="middle" transform="rotate(-90 246.3 95.9)">Current (μA)</text>
<path d="M265.5,154.3 L272,155.2 L279.5,155.8 L292,156.2 L306.4,156.4 L318,156 L327.4,155.4 L339.1,155 L339.5,155 L340.1,152.6 L340.7,153.27 L341.4,153.42 L342.1,153.33 L342.8,153.45 L343.5,153.46 L344.2,153.18 L344.9,153.16 L345.3,153.4 L345.9,151.7 L346.5,152.7 L347.2,152.36 L347.9,152.34 L348.3,152.5 L348.9,150.6 L349.5,151.74 L350.2,151.38 L351.1,151.4 L351.7,149.7 L352.3,150.76 L353,150.48 L353.7,150.61 L354.4,150.23 L355.1,150.6 L355.8,150.78 L356.2,150.5 L356.8,146.5 L357.4,147.32 L358.1,147.51 L358.8,147.45 L359.5,146.93 L360.4,147.3 L361,143.7 L361.6,144.75 L362.3,144.59 L363,144.31 L363.7,144.05 L364.6,144.5 L365.2,140.5 L365.8,141.68 L366.5,141.27 L367.2,141.53 L367.9,141.69 L368.9,141.3 L369.5,136 L370.1,137.04 L370.8,137.28 L371.5,136.68 L372.2,137.14 L373,136.8 L373.6,127.9 L374.2,128.63 L374.9,129.23 L375.6,129.16 L376.3,128.21 L377,128.26 L377.7,128.35 L378,128.7 L378.6,123.2 L379.2,124.61 L379.9,123.92 L380.6,124.17 L381.3,123.74 L382,124.01 L382.7,123.85 L383,124 L383.6,114.2 L384.2,114.79 L384.9,115.12 L385.6,115.12 L386.3,115.57 L387,115.25 L387.7,115.6 L388.6,115 L389.2,105.2 L389.8,106.53 L390.5,106.73 L391.2,106.26 L391.9,105.5 L392.6,106 L393.2,96.2 L393.8,97.57 L394.5,97.73 L395.2,97.64 L395.9,97.11 L396.6,97.34 L397.4,97 L398,83.8 L398.6,84.12 L399.3,85.15 L400,84.72 L400.7,84.24 L401.4,83.87 L402.1,85.19 L402.8,84.6 L403.4,73 L404,74.66 L404.7,73.08 L405.4,74.33 L406.1,73.64 L406.8,73.19 L407.5,73.44 L408.2,74.27 L408.9,74.46 L409.2,73.8 L409.8,61.2 L410.4,61.16 L411.1,62.21 L411.8,61.16 L412.5,62.4 L413.2,61.69 L413.9,62.7 L414.8,62 L415.4,47.3 L416,49.03 L416.7,48.11 L417.4,49.07 L418.1,47.73 L418.8,47.28 L419.5,48.29 L420,48.1 L420.6,35.4 L421.2,35.25 L421.9,35.59 L422.6,36.01 L423.3,36.42 L424,35.5 L424.7,35.27 L425,36.2 L425.6,29.4 L426.2,30.98 L426.9,29.81 L427.6,31.17 L428.3,31.04 L429,29.94 L429.7,30.12 L430,30.2 L430.6,24.2 L431.2,25.04 L431.9,25.32 L432.6,25.21 L433.3,25.13 L433.8,27.2" fill="none" stroke="#e8392b" stroke-width="1.45" stroke-linejoin="round"/>
<rect x="265.6" y="17.6" width="169.8" height="152.4" fill="none" stroke="#1a1a1a" stroke-width="1.3"/>
<rect x="304.3" y="22.6" width="89.1" height="69.7" fill="#fff" stroke="#222" stroke-width="1"/>
<line x1="312.3" y1="92.3" x2="312.3" y2="89.7" stroke="#111" stroke-width="0.8" />
<line x1="328.46" y1="92.3" x2="328.46" y2="90.7" stroke="#111" stroke-width="0.8" />
<line x1="344.62" y1="92.3" x2="344.62" y2="89.7" stroke="#111" stroke-width="0.8" />
<line x1="360.78" y1="92.3" x2="360.78" y2="90.7" stroke="#111" stroke-width="0.8" />
<line x1="376.94" y1="92.3" x2="376.94" y2="89.7" stroke="#111" stroke-width="0.8" />
<line x1="393.1" y1="92.3" x2="393.1" y2="90.7" stroke="#111" stroke-width="0.8" />
<text id="t19" transform="translate(312.3 101.5) scale(0.95 1)" x="0" y="0" font-size="9.1" text-anchor="middle" >80</text>
<text id="t20" transform="translate(344.62 101.5) scale(0.95 1)" x="0" y="0" font-size="9.1" text-anchor="middle" >160</text>
<text id="t21" transform="translate(376.94 101.5) scale(0.95 1)" x="0" y="0" font-size="9.1" text-anchor="middle" >240</text>
<line x1="304.3" y1="92.3" x2="306.9" y2="92.3" stroke="#111" stroke-width="0.8" />
<line x1="304.3" y1="77.3" x2="305.9" y2="77.3" stroke="#111" stroke-width="0.8" />
<line x1="304.3" y1="62.3" x2="306.9" y2="62.3" stroke="#111" stroke-width="0.8" />
<line x1="304.3" y1="47.3" x2="305.9" y2="47.3" stroke="#111" stroke-width="0.8" />
<line x1="304.3" y1="32.3" x2="306.9" y2="32.3" stroke="#111" stroke-width="0.8" />
<text id="t22" transform="translate(303.4 95.2) scale(0.95 1)" x="0" y="0" font-size="9.1" text-anchor="end" >0.3</text>
<text id="t23" transform="translate(303 65.7) scale(0.95 1)" x="0" y="0" font-size="9.1" text-anchor="end" >0.6</text>
<text id="t24" transform="translate(300.6 37) scale(0.95 1)" x="0" y="0" font-size="9.1" text-anchor="end" >0.9</text>
<text id="t25" x="350" y="111.3" font-size="8.5" text-anchor="middle" font-weight="normal" fill="#000" >Time (s)</text>
<text id="t26" x="287.3" y="60.3" font-size="9" text-anchor="middle" transform="rotate(-90 287.3 60.3)">Current (μA)</text>
<path d="M305,76.6 L305.5,76.78 L306,76.96 L306.5,77.5 L307,77.77 L307.5,77.53 L308,78 L308.5,78.29 L309,78.44 L309.5,78.8 L310.5,79.6 L311,79.16 L311.5,79.34 L312,79.2 L312.5,78.83 L313,79.05 L313.5,78.75 L314,79 L314.5,78.91 L315,79.35 L315.5,79.83 L316,79.8 L316.5,79.49 L317,79.51 L317.5,79.74 L318,79.6 L318.5,80.06 L319,79.95 L319.5,79.98 L320,80.2 L320.5,80.63 L321,80.08 L321.5,80.75 L322,80.6 L322.5,80.38 L323,80.2 L323.5,80.11 L324,80.3 L324.5,80.34 L325,80.87 L325.5,80.6 L326,81 L326.5,81.11 L327,81.2 L327.5,81.06 L328,81.2 L328.5,81.18 L329,80.79 L329.5,80.74 L330,81 L330.57,80.94 L331.15,81.43 L331.73,81.4 L332.3,81.6 L333.2,78.6 L333.85,78.27 L334.5,78.2 L335,78.39 L335.5,78.43 L336,78.6 L336.5,78.51 L337,78.91 L337.5,78.89 L338,78.8 L338.5,78.72 L339,79.05 L339.5,79.12 L340,79.2 L340.5,79.41 L341,79.26 L341.5,78.9 L342,79 L342.52,79.5 L343.04,79.05 L343.56,79.42 L344.08,79.82 L344.6,79.8 L345.6,76.2 L346.3,76.16 L347,76.6 L347.5,76.49 L348,76.08 L348.5,76.42 L349,76.2 L349.5,76.54 L350,76.55 L350.5,76.91 L351,76.8 L351.5,76.59 L352,76.79 L352.5,76.64 L353,76.5 L353.5,76.66 L354,76.67 L354.5,77.04 L355,76.9 L355.5,77.31 L356,77.08 L356.5,77.31 L357,77.3 L357.6,76.99 L358.2,77.44 L358.8,77.3 L360.1,65.8 L360.8,64.7 L362,69 L362.5,68.76 L363,68.89 L363.5,67.5 L364,68.51 L364.5,67.98 L365,68.8 L365.5,65.8 L366.5,68.5 L367,67.99 L367.5,68.2 L368,67.6 L368.5,67.14 L369,68.33 L369.5,68.8 L370,68 L370.5,67.71 L371,68.2 L371.5,67.76 L372,69.38 L372.5,68.58 L373,69.6 L374.2,53.6 L375.5,58 L376,57.28 L376.5,57.27 L377,57.2 L377.57,58.8 L378.13,58.31 L378.7,60 L379.33,59.48 L379.97,59.22 L380.6,58.7 L381.1,59.87 L381.6,60.22 L382.1,60.78 L382.6,60.6 L383.8,55.5 L385.1,44 L386.4,49.1 L387.05,47.4 L387.7,46.5 L389,53 L390.3,47.8 L391.5,54.2 L392.8,44.6 L393.3,53.6" fill="none" stroke="#e8392b" stroke-width="1.3" stroke-linejoin="round"/>
<line x1="310.5" y1="58" x2="310.5" y2="76.5" stroke="#1a1a1a" stroke-width="0.9" />
<path d="M309.4,75.5 L311.6,75.5 L310.5,78.8 Z" fill="#1a1a1a"/>
<text id="t27" x="315.5" y="55.3" font-size="6.5" text-anchor="middle" font-weight="bold" fill="#000" >0.1 μM</text>
<line x1="332.8" y1="47.3" x2="332.8" y2="75.5" stroke="#1a1a1a" stroke-width="0.9" />
<path d="M331.7,74.5 L333.9,74.5 L332.8,77.8 Z" fill="#1a1a1a"/>
<text id="t28" x="330.5" y="43.5" font-size="6.5" text-anchor="middle" font-weight="bold" fill="#000" >0.4 μM</text>
<line x1="357.8" y1="39.6" x2="357.8" y2="73" stroke="#1a1a1a" stroke-width="0.9" />
<path d="M356.7,72 L358.9,72 L357.8,75.3 Z" fill="#1a1a1a"/>
<text id="t29" x="357.5" y="37.3" font-size="6.5" text-anchor="middle" font-weight="bold" fill="#000" >1.4 μM</text>
<line x1="383.3" y1="32" x2="383.3" y2="55" stroke="#1a1a1a" stroke-width="0.9" />
<path d="M382.2,54 L384.4,54 L383.3,57.3 Z" fill="#1a1a1a"/>
<text id="t30" x="381.5" y="29.2" font-size="6.5" text-anchor="middle" font-weight="bold" fill="#000" >2.9 μM</text>
<text id="t31" x="450" y="25" font-size="9.5" text-anchor="start" font-weight="bold" fill="#000" >(c)</text>
<line x1="491.4" y1="170.3" x2="491.4" y2="167.1" stroke="#1a1a1a" stroke-width="1.2" />
<line x1="506.32" y1="170.3" x2="506.32" y2="168.3" stroke="#1a1a1a" stroke-width="1.2" />
<line x1="521.25" y1="170.3" x2="521.25" y2="167.1" stroke="#1a1a1a" stroke-width="1.2" />
<line x1="536.17" y1="170.3" x2="536.17" y2="168.3" stroke="#1a1a1a" stroke-width="1.2" />
<line x1="551.1" y1="170.3" x2="551.1" y2="167.1" stroke="#1a1a1a" stroke-width="1.2" />
<line x1="566.02" y1="170.3" x2="566.02" y2="168.3" stroke="#1a1a1a" stroke-width="1.2" />
<line x1="580.95" y1="170.3" x2="580.95" y2="167.1" stroke="#1a1a1a" stroke-width="1.2" />
<line x1="595.88" y1="170.3" x2="595.88" y2="168.3" stroke="#1a1a1a" stroke-width="1.2" />
<line x1="610.8" y1="170.3" x2="610.8" y2="167.1" stroke="#1a1a1a" stroke-width="1.2" />
<line x1="625.72" y1="170.3" x2="625.72" y2="168.3" stroke="#1a1a1a" stroke-width="1.2" />
<line x1="640.65" y1="170.3" x2="640.65" y2="167.1" stroke="#1a1a1a" stroke-width="1.2" />
<line x1="655.57" y1="170.3" x2="655.57" y2="168.3" stroke="#1a1a1a" stroke-width="1.2" />
<line x1="670.5" y1="170.3" x2="670.5" y2="167.1" stroke="#1a1a1a" stroke-width="1.2" />
<text id="t32" transform="translate(491.4 181.2) scale(0.95 1)" x="0" y="0" font-size="10.4" text-anchor="middle" >0</text>
<text id="t33" transform="translate(551.1 181.2) scale(0.95 1)" x="0" y="0" font-size="10.4" text-anchor="middle" >20000</text>
<text id="t34" transform="translate(610.8 181.2) scale(0.95 1)" x="0" y="0" font-size="10.4" text-anchor="middle" >40000</text>
<text id="t35" transform="translate(670.5 181.2) scale(0.95 1)" x="0" y="0" font-size="10.4" text-anchor="middle" >60000</text>
<line x1="476.6" y1="156.2" x2="479.8" y2="156.2" stroke="#1a1a1a" stroke-width="1.2" />
<line x1="476.6" y1="135.48" x2="478.6" y2="135.48" stroke="#1a1a1a" stroke-width="1.2" />
<line x1="476.6" y1="114.77" x2="479.8" y2="114.77" stroke="#1a1a1a" stroke-width="1.2" />
<line x1="476.6" y1="94.05" x2="478.6" y2="94.05" stroke="#1a1a1a" stroke-width="1.2" />
<line x1="476.6" y1="73.34" x2="479.8" y2="73.34" stroke="#1a1a1a" stroke-width="1.2" />
<line x1="476.6" y1="52.62" x2="478.6" y2="52.62" stroke="#1a1a1a" stroke-width="1.2" />
<line x1="476.6" y1="31.91" x2="479.8" y2="31.91" stroke="#1a1a1a" stroke-width="1.2" />
<text id="t36" transform="translate(474 160.1) scale(0.95 1)" x="0" y="0" font-size="10.4" text-anchor="end" >0</text>
<text id="t37" transform="translate(474 118.67) scale(0.95 1)" x="0" y="0" font-size="10.4" text-anchor="end" >30</text>
<text id="t38" transform="translate(474 77.24) scale(0.95 1)" x="0" y="0" font-size="10.4" text-anchor="end" >60</text>
<text id="t39" transform="translate(474 35.81) scale(0.95 1)" x="0" y="0" font-size="10.4" text-anchor="end" >90</text>
<text id="t40" x="572.8" y="192.3" font-size="10" text-anchor="middle" font-weight="normal" fill="#000" >Concentration (μM)</text>
<text id="t41" x="458" y="93.3" font-size="10" text-anchor="middle" transform="rotate(-90 458 93.3)">Current (μA)</text>
<text id="t42" x="486" y="28.3" font-size="8.75" text-anchor="start" font-weight="bold" fill="#000" >I(μA) = 1.3 + 0.022C<tspan font-size="6.4" dy="2.3">UA</tspan><tspan dy="-2.3"> (μM)</tspan></text>
<text id="t43" x="486" y="38.8" font-size="8.75" text-anchor="start" font-weight="bold" fill="#000" >I(μA) = 22.9 + 0.0015C<tspan font-size="6.4" dy="2.3">UA</tspan><tspan dy="-2.3"> (μM)</tspan></text>
<line x1="493.79" y1="122.92" x2="637.66" y2="23.07" stroke="#e8402c" stroke-width="1.25" />
<ellipse cx="491.2" cy="154.4" rx="1.9" ry="2.4" fill="#2c4290" opacity="0.9"/>
<ellipse cx="491.27" cy="153.74" rx="1.9" ry="2.4" fill="#2c4290" opacity="0.9"/>
<ellipse cx="491.33" cy="153.07" rx="1.9" ry="2.4" fill="#2c4290" opacity="0.9"/>
<ellipse cx="491.4" cy="152.4" rx="1.9" ry="2.4" fill="#2c4290" opacity="0.9"/>
<ellipse cx="491.46" cy="151.73" rx="1.9" ry="2.4" fill="#2c4290" opacity="0.9"/>
<ellipse cx="491.53" cy="151.06" rx="1.9" ry="2.4" fill="#2c4290" opacity="0.9"/>
<ellipse cx="491.59" cy="150.39" rx="1.9" ry="2.4" fill="#2c4290" opacity="0.9"/>
<ellipse cx="491.66" cy="149.73" rx="1.9" ry="2.4" fill="#2c4290" opacity="0.9"/>
<ellipse cx="491.73" cy="149.06" rx="1.9" ry="2.4" fill="#2c4290" opacity="0.9"/>
<ellipse cx="491.79" cy="148.39" rx="1.9" ry="2.4" fill="#2c4290" opacity="0.9"/>
<ellipse cx="491.86" cy="147.72" rx="1.9" ry="2.4" fill="#2c4290" opacity="0.9"/>
<ellipse cx="491.92" cy="147.05" rx="1.9" ry="2.4" fill="#2c4290" opacity="0.9"/>
<ellipse cx="491.99" cy="146.38" rx="1.9" ry="2.4" fill="#2c4290" opacity="0.9"/>
<ellipse cx="492.05" cy="145.72" rx="1.9" ry="2.4" fill="#2c4290" opacity="0.9"/>
<ellipse cx="492.12" cy="145.05" rx="1.9" ry="2.4" fill="#2c4290" opacity="0.9"/>
<ellipse cx="492.19" cy="144.38" rx="1.9" ry="2.4" fill="#2c4290" opacity="0.9"/>
<ellipse cx="492.25" cy="143.71" rx="1.9" ry="2.4" fill="#2c4290" opacity="0.9"/>
<ellipse cx="492.32" cy="143.04" rx="1.9" ry="2.4" fill="#2c4290" opacity="0.9"/>
<ellipse cx="492.38" cy="142.37" rx="1.9" ry="2.4" fill="#2c4290" opacity="0.9"/>
<ellipse cx="492.45" cy="141.71" rx="1.9" ry="2.4" fill="#2c4290" opacity="0.9"/>
<ellipse cx="492.51" cy="141.04" rx="1.9" ry="2.4" fill="#2c4290" opacity="0.9"/>
<ellipse cx="492.58" cy="140.37" rx="1.9" ry="2.4" fill="#2c4290" opacity="0.9"/>
<ellipse cx="492.64" cy="139.7" rx="1.9" ry="2.4" fill="#2c4290" opacity="0.9"/>
<ellipse cx="492.71" cy="139.03" rx="1.9" ry="2.4" fill="#2c4290" opacity="0.9"/>
<ellipse cx="492.78" cy="138.36" rx="1.9" ry="2.4" fill="#2c4290" opacity="0.9"/>
<ellipse cx="492.84" cy="137.69" rx="1.9" ry="2.4" fill="#2c4290" opacity="0.9"/>
<ellipse cx="492.91" cy="137.03" rx="1.9" ry="2.4" fill="#2c4290" opacity="0.9"/>
<ellipse cx="492.97" cy="136.36" rx="1.9" ry="2.4" fill="#2c4290" opacity="0.9"/>
<ellipse cx="493.04" cy="135.69" rx="1.9" ry="2.4" fill="#2c4290" opacity="0.9"/>
<ellipse cx="493.83" cy="127.67" rx="1.9" ry="2.4" fill="#2c4290" opacity="0.9"/>
<ellipse cx="493.89" cy="127.06" rx="1.9" ry="2.4" fill="#2c4290" opacity="0.9"/>
<line x1="490.65" y1="157.58" x2="494.38" y2="122.64" stroke="#e8402c" stroke-width="1.2" />
<line x1="494.38" y1="119.85" x2="494.38" y2="125.16" stroke="#e03a2a" stroke-width="1.1" />
<line x1="492.58" y1="119.85" x2="496.19" y2="119.85" stroke="#e03a2a" stroke-width="1.1" />
<line x1="492.58" y1="125.16" x2="496.19" y2="125.16" stroke="#e03a2a" stroke-width="1.1" />
<circle cx="494.38" cy="122.5" r="1.7" fill="none" stroke="#e03a2a" stroke-width="1.15"/>
<line x1="505.73" y1="111.98" x2="505.73" y2="117.28" stroke="#e03a2a" stroke-width="1.1" />
<line x1="503.93" y1="111.98" x2="507.53" y2="111.98" stroke="#e03a2a" stroke-width="1.1" />
<line x1="503.93" y1="117.28" x2="507.53" y2="117.28" stroke="#e03a2a" stroke-width="1.1" />
<circle cx="505.73" cy="114.63" r="1.7" fill="none" stroke="#e03a2a" stroke-width="1.15"/>
<line x1="517.07" y1="103.89" x2="517.07" y2="109.63" stroke="#e03a2a" stroke-width="1.1" />
<line x1="515.27" y1="103.89" x2="518.87" y2="103.89" stroke="#e03a2a" stroke-width="1.1" />
<line x1="515.27" y1="109.63" x2="518.87" y2="109.63" stroke="#e03a2a" stroke-width="1.1" />
<circle cx="517.07" cy="106.76" r="1.7" fill="none" stroke="#e03a2a" stroke-width="1.15"/>
<line x1="528.12" y1="96.22" x2="528.12" y2="101.97" stroke="#e03a2a" stroke-width="1.1" />
<line x1="526.32" y1="96.22" x2="529.92" y2="96.22" stroke="#e03a2a" stroke-width="1.1" />
<line x1="526.32" y1="101.97" x2="529.92" y2="101.97" stroke="#e03a2a" stroke-width="1.1" />
<circle cx="528.12" cy="99.1" r="1.7" fill="none" stroke="#e03a2a" stroke-width="1.15"/>
<line x1="543.94" y1="84.8" x2="543.94" y2="91.43" stroke="#e03a2a" stroke-width="1.1" />
<line x1="542.14" y1="84.8" x2="545.74" y2="84.8" stroke="#e03a2a" stroke-width="1.1" />
<line x1="542.14" y1="91.43" x2="545.74" y2="91.43" stroke="#e03a2a" stroke-width="1.1" />
<circle cx="543.94" cy="88.12" r="1.7" fill="none" stroke="#e03a2a" stroke-width="1.15"/>
<line x1="560.5" y1="73.08" x2="560.5" y2="80.16" stroke="#e03a2a" stroke-width="1.1" />
<line x1="558.7" y1="73.08" x2="562.3" y2="73.08" stroke="#e03a2a" stroke-width="1.1" />
<line x1="558.7" y1="80.16" x2="562.3" y2="80.16" stroke="#e03a2a" stroke-width="1.1" />
<circle cx="560.5" cy="76.62" r="1.7" fill="none" stroke="#e03a2a" stroke-width="1.15"/>
<line x1="576.32" y1="62.33" x2="576.32" y2="68.96" stroke="#e03a2a" stroke-width="1.1" />
<line x1="574.52" y1="62.33" x2="578.12" y2="62.33" stroke="#e03a2a" stroke-width="1.1" />
<line x1="574.52" y1="68.96" x2="578.12" y2="68.96" stroke="#e03a2a" stroke-width="1.1" />
<circle cx="576.32" cy="65.64" r="1.7" fill="none" stroke="#e03a2a" stroke-width="1.15"/>
<line x1="596.47" y1="48.56" x2="596.47" y2="54.75" stroke="#e03a2a" stroke-width="1.1" />
<line x1="594.67" y1="48.56" x2="598.27" y2="48.56" stroke="#e03a2a" stroke-width="1.1" />
<line x1="594.67" y1="54.75" x2="598.27" y2="54.75" stroke="#e03a2a" stroke-width="1.1" />
<circle cx="596.47" cy="51.66" r="1.7" fill="none" stroke="#e03a2a" stroke-width="1.15"/>
<line x1="616.02" y1="37.77" x2="616.02" y2="44.84" stroke="#e03a2a" stroke-width="1.1" />
<line x1="614.22" y1="37.77" x2="617.82" y2="37.77" stroke="#e03a2a" stroke-width="1.1" />
<line x1="614.22" y1="44.84" x2="617.82" y2="44.84" stroke="#e03a2a" stroke-width="1.1" />
<circle cx="616.02" cy="41.3" r="1.7" fill="none" stroke="#e03a2a" stroke-width="1.15"/>
<line x1="636.02" y1="32.77" x2="636.02" y2="40.72" stroke="#b85c5c" stroke-width="1.1" />
<line x1="634.22" y1="32.77" x2="637.82" y2="32.77" stroke="#b85c5c" stroke-width="1.1" />
<line x1="634.22" y1="40.72" x2="637.82" y2="40.72" stroke="#b85c5c" stroke-width="1.1" />
<circle cx="636.02" cy="36.74" r="1.7" fill="none" stroke="#b85c5c" stroke-width="1.15"/>
<line x1="659.01" y1="27.77" x2="659.01" y2="36.61" stroke="#b85c5c" stroke-width="1.1" />
<line x1="657.21" y1="27.77" x2="660.81" y2="27.77" stroke="#b85c5c" stroke-width="1.1" />
<line x1="657.21" y1="36.61" x2="660.81" y2="36.61" stroke="#b85c5c" stroke-width="1.1" />
<circle cx="659.01" cy="32.19" r="1.7" fill="none" stroke="#b85c5c" stroke-width="1.15"/>
<line x1="607.7" y1="63.1" x2="611.55" y2="65.4" stroke="#c86a5a" stroke-width="1.25" />
<line x1="611.55" y1="65.4" x2="615.4" y2="67.7" stroke="#9a7a66" stroke-width="1.25" />
<line x1="615.4" y1="67.7" x2="620.4" y2="65.6" stroke="#9a7a66" stroke-width="1.25" />
<line x1="620.4" y1="65.6" x2="625.4" y2="63.5" stroke="#a6b0d8" stroke-width="1.25" />
<line x1="615.4" y1="67.7" x2="616.15" y2="73.3" stroke="#9a7a66" stroke-width="1.25" />
<line x1="616.15" y1="73.3" x2="616.9" y2="78.9" stroke="#a6b0d8" stroke-width="1.25" />
<line x1="616.9" y1="78.9" x2="614.05" y2="81.55" stroke="#a6b0d8" stroke-width="1.25" />
<line x1="614.05" y1="81.55" x2="611.2" y2="84.2" stroke="#dcc0c0" stroke-width="1.25" />
<line x1="625.4" y1="63.5" x2="628.85" y2="67.9" stroke="#a6b0d8" stroke-width="1.25" />
<line x1="628.85" y1="67.9" x2="632.3" y2="72.3" stroke="#9a7a66" stroke-width="1.25" />
<line x1="616.9" y1="78.9" x2="621.9" y2="80.2" stroke="#a6b0d8" stroke-width="1.25" />
<line x1="621.9" y1="80.2" x2="626.9" y2="81.5" stroke="#9a7a66" stroke-width="1.25" />
<line x1="626.9" y1="81.5" x2="629.6" y2="76.9" stroke="#9a7a66" stroke-width="1.25" />
<line x1="629.6" y1="76.9" x2="632.3" y2="72.3" stroke="#9a7a66" stroke-width="1.25" />
<line x1="632.3" y1="72.3" x2="637.7" y2="71.9" stroke="#9a7a66" stroke-width="1.25" />
<line x1="637.7" y1="71.9" x2="643.1" y2="71.5" stroke="#9a7a66" stroke-width="1.25" />
<line x1="643.1" y1="71.5" x2="646.15" y2="67.65" stroke="#9a7a66" stroke-width="1.25" />
<line x1="646.15" y1="67.65" x2="649.2" y2="63.8" stroke="#c86a5a" stroke-width="1.25" />
<line x1="643.1" y1="71.5" x2="645.4" y2="76.75" stroke="#9a7a66" stroke-width="1.25" />
<line x1="645.4" y1="76.75" x2="647.7" y2="82" stroke="#a6b0d8" stroke-width="1.25" />
<line x1="647.7" y1="82" x2="651.55" y2="82.15" stroke="#a6b0d8" stroke-width="1.25" />
<line x1="651.55" y1="82.15" x2="655.4" y2="82.3" stroke="#dcc0c0" stroke-width="1.25" />
<line x1="647.7" y1="82" x2="645" y2="86.75" stroke="#a6b0d8" stroke-width="1.25" />
<line x1="645" y1="86.75" x2="642.3" y2="91.5" stroke="#9a7a66" stroke-width="1.25" />
<line x1="642.3" y1="91.5" x2="644.6" y2="95.75" stroke="#9a7a66" stroke-width="1.25" />
<line x1="644.6" y1="95.75" x2="646.9" y2="100" stroke="#c86a5a" stroke-width="1.25" />
<line x1="642.3" y1="91.5" x2="636.9" y2="91.35" stroke="#9a7a66" stroke-width="1.25" />
<line x1="636.9" y1="91.35" x2="631.5" y2="91.2" stroke="#a6b0d8" stroke-width="1.25" />
<line x1="631.5" y1="91.2" x2="629.2" y2="86.35" stroke="#a6b0d8" stroke-width="1.25" />
<line x1="629.2" y1="86.35" x2="626.9" y2="81.5" stroke="#9a7a66" stroke-width="1.25" />
<circle cx="607.7" cy="63.1" r="2.25" fill="#e44a3a" stroke="#c02a1c" stroke-width="1.1"/>
<circle cx="615.4" cy="67.7" r="2.05" fill="#a88a74" stroke="#6a4836" stroke-width="1.1"/>
<circle cx="625.4" cy="63.5" r="2.05" fill="#e6eaf8" stroke="#7686c8" stroke-width="1.1"/>
<circle cx="632.3" cy="72.3" r="2.05" fill="#a88a74" stroke="#6a4836" stroke-width="1.1"/>
<circle cx="643.1" cy="71.5" r="2.05" fill="#a88a74" stroke="#6a4836" stroke-width="1.1"/>
<circle cx="649.2" cy="63.8" r="2.25" fill="#e44a3a" stroke="#c02a1c" stroke-width="1.1"/>
<circle cx="616.9" cy="78.9" r="2.05" fill="#e6eaf8" stroke="#7686c8" stroke-width="1.1"/>
<circle cx="611.2" cy="84.2" r="1.3" fill="#fbecec" stroke="#d39a9a" stroke-width="0.7"/>
<circle cx="626.9" cy="81.5" r="2.05" fill="#a88a74" stroke="#6a4836" stroke-width="1.1"/>
<circle cx="647.7" cy="82" r="2.05" fill="#e6eaf8" stroke="#7686c8" stroke-width="1.1"/>
<circle cx="655.4" cy="82.3" r="1.3" fill="#fbecec" stroke="#d39a9a" stroke-width="0.7"/>
<circle cx="631.5" cy="91.2" r="2.05" fill="#e6eaf8" stroke="#7686c8" stroke-width="1.1"/>
<circle cx="642.3" cy="91.5" r="2.05" fill="#a88a74" stroke="#6a4836" stroke-width="1.1"/>
<circle cx="646.9" cy="100" r="2.25" fill="#e44a3a" stroke="#c02a1c" stroke-width="1.1"/>
<line x1="533.8" y1="121.8" x2="538.05" y2="124" stroke="#c86a5a" stroke-width="1.25" />
<line x1="538.05" y1="124" x2="542.3" y2="126.2" stroke="#9a7a66" stroke-width="1.25" />
<line x1="542.3" y1="126.2" x2="547.7" y2="124.25" stroke="#9a7a66" stroke-width="1.25" />
<line x1="547.7" y1="124.25" x2="553.1" y2="122.3" stroke="#a6b0d8" stroke-width="1.25" />
<line x1="542.3" y1="126.2" x2="543.05" y2="131.55" stroke="#9a7a66" stroke-width="1.25" />
<line x1="543.05" y1="131.55" x2="543.8" y2="136.9" stroke="#a6b0d8" stroke-width="1.25" />
<line x1="543.8" y1="136.9" x2="540.75" y2="139.2" stroke="#a6b0d8" stroke-width="1.25" />
<line x1="540.75" y1="139.2" x2="537.7" y2="141.5" stroke="#dcc0c0" stroke-width="1.25" />
<line x1="553.1" y1="122.3" x2="556.7" y2="126.15" stroke="#a6b0d8" stroke-width="1.25" />
<line x1="556.7" y1="126.15" x2="560.3" y2="130" stroke="#9a7a66" stroke-width="1.25" />
<line x1="543.8" y1="136.9" x2="549.45" y2="138.05" stroke="#a6b0d8" stroke-width="1.25" />
<line x1="549.45" y1="138.05" x2="555.1" y2="139.2" stroke="#9a7a66" stroke-width="1.25" />
<line x1="555.1" y1="139.2" x2="557.7" y2="134.6" stroke="#9a7a66" stroke-width="1.25" />
<line x1="557.7" y1="134.6" x2="560.3" y2="130" stroke="#9a7a66" stroke-width="1.25" />
<line x1="560.3" y1="130" x2="565.9" y2="130" stroke="#9a7a66" stroke-width="1.25" />
<line x1="565.9" y1="130" x2="571.5" y2="130" stroke="#9a7a66" stroke-width="1.25" />
<line x1="571.5" y1="130" x2="574.35" y2="126.15" stroke="#9a7a66" stroke-width="1.25" />
<line x1="574.35" y1="126.15" x2="577.2" y2="122.3" stroke="#c86a5a" stroke-width="1.25" />
<line x1="571.5" y1="130" x2="573.6" y2="135.15" stroke="#9a7a66" stroke-width="1.25" />
<line x1="573.6" y1="135.15" x2="575.7" y2="140.3" stroke="#a6b0d8" stroke-width="1.25" />
<line x1="575.7" y1="140.3" x2="579.75" y2="140.3" stroke="#a6b0d8" stroke-width="1.25" />
<line x1="579.75" y1="140.3" x2="583.8" y2="140.3" stroke="#dcc0c0" stroke-width="1.25" />
<line x1="575.7" y1="140.3" x2="573.1" y2="144.75" stroke="#a6b0d8" stroke-width="1.25" />
<line x1="573.1" y1="144.75" x2="570.5" y2="149.2" stroke="#9a7a66" stroke-width="1.25" />
<line x1="570.5" y1="149.2" x2="572.8" y2="153.7" stroke="#9a7a66" stroke-width="1.25" />
<line x1="572.8" y1="153.7" x2="575.1" y2="158.2" stroke="#c86a5a" stroke-width="1.25" />
<line x1="570.5" y1="149.2" x2="565.1" y2="149.05" stroke="#9a7a66" stroke-width="1.25" />
<line x1="565.1" y1="149.05" x2="559.7" y2="148.9" stroke="#a6b0d8" stroke-width="1.25" />
<line x1="559.7" y1="148.9" x2="557.4" y2="144.05" stroke="#a6b0d8" stroke-width="1.25" />
<line x1="557.4" y1="144.05" x2="555.1" y2="139.2" stroke="#9a7a66" stroke-width="1.25" />
<line x1="553.1" y1="122.3" x2="553.85" y2="118.45" stroke="#a6b0d8" stroke-width="1.25" />
<line x1="553.85" y1="118.45" x2="554.6" y2="114.6" stroke="#dcc0c0" stroke-width="1.25" />
<line x1="559.7" y1="148.9" x2="557.7" y2="151.75" stroke="#a6b0d8" stroke-width="1.25" />
<line x1="557.7" y1="151.75" x2="555.7" y2="154.6" stroke="#dcc0c0" stroke-width="1.25" />
<circle cx="533.8" cy="121.8" r="2.25" fill="#e44a3a" stroke="#c02a1c" stroke-width="1.1"/>
<circle cx="542.3" cy="126.2" r="2.05" fill="#a88a74" stroke="#6a4836" stroke-width="1.1"/>
<circle cx="553.1" cy="122.3" r="2.05" fill="#e6eaf8" stroke="#7686c8" stroke-width="1.1"/>
<circle cx="554.6" cy="114.6" r="1.3" fill="#fbecec" stroke="#d39a9a" stroke-width="0.7"/>
<circle cx="560.3" cy="130" r="2.05" fill="#a88a74" stroke="#6a4836" stroke-width="1.1"/>
<circle cx="571.5" cy="130" r="2.05" fill="#a88a74" stroke="#6a4836" stroke-width="1.1"/>
<circle cx="577.2" cy="122.3" r="2.25" fill="#e44a3a" stroke="#c02a1c" stroke-width="1.1"/>
<circle cx="543.8" cy="136.9" r="2.05" fill="#e6eaf8" stroke="#7686c8" stroke-width="1.1"/>
<circle cx="537.7" cy="141.5" r="1.3" fill="#fbecec" stroke="#d39a9a" stroke-width="0.7"/>
<circle cx="555.1" cy="139.2" r="2.05" fill="#a88a74" stroke="#6a4836" stroke-width="1.1"/>
<circle cx="575.7" cy="140.3" r="2.05" fill="#e6eaf8" stroke="#7686c8" stroke-width="1.1"/>
<circle cx="583.8" cy="140.3" r="1.3" fill="#fbecec" stroke="#d39a9a" stroke-width="0.7"/>
<circle cx="559.7" cy="148.9" r="2.05" fill="#e6eaf8" stroke="#7686c8" stroke-width="1.1"/>
<circle cx="570.5" cy="149.2" r="2.05" fill="#a88a74" stroke="#6a4836" stroke-width="1.1"/>
<circle cx="555.7" cy="154.6" r="1.3" fill="#fbecec" stroke="#d39a9a" stroke-width="0.7"/>
<circle cx="575.1" cy="158.2" r="2.25" fill="#e44a3a" stroke="#c02a1c" stroke-width="1.1"/>
<circle cx="554.6" cy="114.6" r="3.4" fill="none" stroke="#e23a2a" stroke-width="1.1"/>
<circle cx="555.7" cy="154.6" r="3.4" fill="none" stroke="#e23a2a" stroke-width="1.1"/>
<defs><linearGradient id="garr" x1="0" y1="0" x2="1" y2="0"><stop offset="0" stop-color="#c9c2bc"/><stop offset="0.45" stop-color="#d8cfc9"/><stop offset="0.6" stop-color="#fbe3da"/><stop offset="1" stop-color="#fde6de"/></linearGradient></defs>
<path d="M591.2,118.8 C596,121.6 604,122.2 609.5,117.2 C613,113.6 614,108 613.3,103 L612.9,100.3 L604.3,99 L606.9,107.1 L609.1,105.6 C609.6,109 608.6,112.5 605.6,114.5 C601,117.5 596,117 593.5,115.6 Z" fill="url(#garr)" stroke="#e33a2a" stroke-width="0.9" stroke-linejoin="round"/>
<rect x="476.6" y="18.1" width="193.8" height="152.2" fill="none" stroke="#1a1a1a" stroke-width="1.3"/>
<text id="t44" x="14.5" y="219.8" font-size="9.5" text-anchor="start" font-weight="bold" fill="#000" >(d)</text>
<line x1="45.4" y1="362" x2="45.4" y2="358.8" stroke="#1a1a1a" stroke-width="1.2" />
<text id="t45" transform="translate(45.4 373.4) scale(0.95 1)" x="0" y="0" font-size="10.4" text-anchor="middle" >330</text>
<line x1="85.4" y1="362" x2="85.4" y2="358.8" stroke="#1a1a1a" stroke-width="1.2" />
<text id="t46" transform="translate(85.4 373.4) scale(0.95 1)" x="0" y="0" font-size="10.4" text-anchor="middle" >335</text>
<line x1="125.4" y1="362" x2="125.4" y2="358.8" stroke="#1a1a1a" stroke-width="1.2" />
<text id="t47" transform="translate(125.4 373.4) scale(0.95 1)" x="0" y="0" font-size="10.4" text-anchor="middle" >340</text>
<line x1="165.4" y1="362" x2="165.4" y2="358.8" stroke="#1a1a1a" stroke-width="1.2" />
<text id="t48" transform="translate(165.4 373.4) scale(0.95 1)" x="0" y="0" font-size="10.4" text-anchor="middle" >345</text>
<line x1="205.4" y1="362" x2="205.4" y2="358.8" stroke="#1a1a1a" stroke-width="1.2" />
<text id="t49" transform="translate(205.4 373.4) scale(0.95 1)" x="0" y="0" font-size="10.4" text-anchor="middle" >350</text>
<line x1="34.7" y1="355.5" x2="37.9" y2="355.5" stroke="#1a1a1a" stroke-width="1.2" />
<line x1="34.7" y1="335.55" x2="36.7" y2="335.55" stroke="#1a1a1a" stroke-width="1.2" />
<line x1="34.7" y1="315.6" x2="37.9" y2="315.6" stroke="#1a1a1a" stroke-width="1.2" />
<line x1="34.7" y1="295.65" x2="36.7" y2="295.65" stroke="#1a1a1a" stroke-width="1.2" />
<line x1="34.7" y1="275.7" x2="37.9" y2="275.7" stroke="#1a1a1a" stroke-width="1.2" />
<line x1="34.7" y1="255.75" x2="36.7" y2="255.75" stroke="#1a1a1a" stroke-width="1.2" />
<line x1="34.7" y1="235.8" x2="37.9" y2="235.8" stroke="#1a1a1a" stroke-width="1.2" />
<line x1="34.7" y1="215.85" x2="36.7" y2="215.85" stroke="#1a1a1a" stroke-width="1.2" />
<text id="t50" transform="translate(32.3 359.4) scale(0.95 1)" x="0" y="0" font-size="10.4" text-anchor="end" >1.35</text>
<text id="t51" transform="translate(32.3 319.5) scale(0.95 1)" x="0" y="0" font-size="10.4" text-anchor="end" >1.40</text>
<text id="t52" transform="translate(32.3 279.6) scale(0.95 1)" x="0" y="0" font-size="10.4" text-anchor="end" >1.45</text>
<text id="t53" transform="translate(32.3 239.7) scale(0.95 1)" x="0" y="0" font-size="10.4" text-anchor="end" >1.50</text>
<text id="t54" x="119.2" y="384.2" font-size="10" text-anchor="middle" font-weight="normal" fill="#000" >Time (s)</text>
<text id="dyt" x="9.8" y="287.7" font-size="10.2" text-anchor="middle" transform="rotate(-90 9.8 287.7)">Current (μA)</text>
<text x="50" y="234.3" font-size="10" text-anchor="start" font-weight="bold" fill="#000" id="rt">response time = 2.8 s</text>
<path d="M35,326 L35.28,325.38 L36.56,338.21 L38.1,322.18 L39.13,343.33 L40.41,323.46 L41.69,344.62 L43.23,329.23 L44.51,345.9 L46.56,317.05 L47.85,329.23 L49.38,330.51 L50.67,326.03 L51.95,332.44 L53.87,342.05 L55.79,326.67 L57.08,335.64 L58.1,320.9 L59.64,351.67 L60.92,335.64 L62.21,340.77 L63.49,333.08 L64.77,336.92 L66.05,345.26 L67.59,324.74 L69.26,335.64 L70.54,330.51 L71.82,347.82 L73.1,327.95 L74.77,340.77 L76.31,333.08 L77.59,336.92 L78.87,339.49 L80.15,351.03 L82.08,321.54 L83.36,335.64 L85.28,336.28 L86.56,333.72 L88.49,325.38 L90.41,342.05 L92.33,333.08 L93.23,351.03 L94.9,332.44 L96.82,344.62 L98.74,339.49 L100.03,349.74 L101.95,339.49 L103.87,328.59 L105.54,352.31 L107.08,338.21 L108.36,336.92 L110.03,337.56 L106,338 L107.5,342 L109.6,336 L111.2,318 L112.2,327 L113.5,293.5 L114.3,322 L115.6,301 L117.2,287 L117.9,271.4 L119.5,270 L120.6,265 L121.8,273 L123,262 L124.3,266 L125.5,258 L126.8,261 L128.2,255 L129.2,251.5 L130,241 L131.33,260 L132.67,253.33 L134,260.67 L135.33,252 L137.33,252.67 L138.67,268 L140,257.33 L141.33,275.33 L142.67,246.67 L144,272 L145.33,248.67 L146.67,272.67 L148,256.67 L149.33,260 L150.67,249.33 L152,248 L153.33,258.67 L154.67,237.33 L156,254.67 L157.33,245.33 L158.67,251.33 L160,256.67 L161.33,250 L163.33,259.33 L164.67,244 L166.67,236.67 L168,256 L169.33,249.33 L170.67,257.33 L172.67,242 L174,266.67 L175.33,252.67 L176.67,254 L178,252.67 L180,248.67 L182,249.33 L183.33,265.33 L184.67,250.67 L186,264 L187.33,238 L189.33,248 L191.33,258 L193.33,240 L195.33,261.33 L196.67,242.67 L198,271.33 L199.33,241.33 L200.67,256 L202,250.67 L204,256.67 L206,258.67" fill="none" stroke="#e33b2e" stroke-width="1.1" stroke-linejoin="round"/>
<line x1="99.5" y1="252.4" x2="205" y2="252.4" stroke="#3a8888" stroke-width="1.1" stroke-dasharray="2.4 1.9"/>
<line x1="59.7" y1="341.5" x2="144.2" y2="341.5" stroke="#3a8888" stroke-width="1.1" stroke-dasharray="2.4 1.9"/>
<line x1="128.5" y1="252.4" x2="128.5" y2="341" stroke="#3a8888" stroke-width="1.1" />
<path d="M127.4,337.6 L129.6,337.6 L128.5,340.6 Z" fill="#3a8888"/>
<rect x="34.7" y="212.2" width="170.7" height="149.8" fill="none" stroke="#1a1a1a" stroke-width="1.3"/>
<text id="t55" x="225" y="214.2" font-size="9.5" text-anchor="start" font-weight="bold" fill="#000" >(e)</text>
<defs><linearGradient id="ge" gradientUnits="userSpaceOnUse" x1="0" y1="220" x2="0" y2="362"><stop offset="0" stop-color="#ecbde8"/><stop offset="0.4" stop-color="#e6bfe6"/><stop offset="0.62" stop-color="#cfcaeb"/><stop offset="0.85" stop-color="#b2d8ef"/><stop offset="1" stop-color="#a6d9ef"/></linearGradient><linearGradient id="gf" gradientUnits="userSpaceOnUse" x1="0" y1="226" x2="0" y2="362"><stop offset="0" stop-color="#ff7f84"/><stop offset="0.45" stop-color="#ff9e96"/><stop offset="1" stop-color="#ffd2aa"/></linearGradient></defs>
<rect x="268.2" y="219.52" width="15.6" height="142.78" fill="url(#ge)"/>
<line x1="276" y1="216.22" x2="276" y2="222.82" stroke="#8a8a3a" stroke-width="1" />
<line x1="274.2" y1="216.22" x2="277.8" y2="216.22" stroke="#8a8a3a" stroke-width="1" />
<line x1="274.2" y1="222.82" x2="277.8" y2="222.82" stroke="#8a8a3a" stroke-width="1" />
<line x1="276" y1="362.3" x2="276" y2="365.3" stroke="#1a1a1a" stroke-width="1.2" />
<line x1="292.3" y1="362.3" x2="292.3" y2="364.3" stroke="#1a1a1a" stroke-width="1.2" />
<text id="t56" transform="translate(276 376.9) scale(0.95 1)" x="0" y="0" font-size="10.4" text-anchor="middle" >0</text>
<rect x="300.75" y="219.37" width="15.6" height="142.93" fill="url(#ge)"/>
<line x1="308.55" y1="217.51" x2="308.55" y2="221.24" stroke="#8a8a3a" stroke-width="1" />
<line x1="306.75" y1="217.51" x2="310.35" y2="217.51" stroke="#8a8a3a" stroke-width="1" />
<line x1="306.75" y1="221.24" x2="310.35" y2="221.24" stroke="#8a8a3a" stroke-width="1" />
<line x1="308.55" y1="362.3" x2="308.55" y2="365.3" stroke="#1a1a1a" stroke-width="1.2" />
<line x1="324.85" y1="362.3" x2="324.85" y2="364.3" stroke="#1a1a1a" stroke-width="1.2" />
<text id="t57" transform="translate(308.55 376.9) scale(0.95 1)" x="0" y="0" font-size="10.4" text-anchor="middle" >10</text>
<rect x="333.3" y="222.67" width="15.6" height="139.63" fill="url(#ge)"/>
<line x1="341.1" y1="220.81" x2="341.1" y2="224.54" stroke="#8a8a3a" stroke-width="1" />
<line x1="339.3" y1="220.81" x2="342.9" y2="220.81" stroke="#8a8a3a" stroke-width="1" />
<line x1="339.3" y1="224.54" x2="342.9" y2="224.54" stroke="#8a8a3a" stroke-width="1" />
<line x1="341.1" y1="362.3" x2="341.1" y2="365.3" stroke="#1a1a1a" stroke-width="1.2" />
<line x1="357.4" y1="362.3" x2="357.4" y2="364.3" stroke="#1a1a1a" stroke-width="1.2" />
<text id="t58" transform="translate(341.1 376.9) scale(0.95 1)" x="0" y="0" font-size="10.4" text-anchor="middle" >20</text>
<rect x="365.85" y="227.98" width="15.6" height="134.32" fill="url(#ge)"/>
<line x1="373.65" y1="224.68" x2="373.65" y2="231.28" stroke="#8a8a3a" stroke-width="1" />
<line x1="371.85" y1="224.68" x2="375.45" y2="224.68" stroke="#8a8a3a" stroke-width="1" />
<line x1="371.85" y1="231.28" x2="375.45" y2="231.28" stroke="#8a8a3a" stroke-width="1" />
<line x1="373.65" y1="362.3" x2="373.65" y2="365.3" stroke="#1a1a1a" stroke-width="1.2" />
<line x1="389.95" y1="362.3" x2="389.95" y2="364.3" stroke="#1a1a1a" stroke-width="1.2" />
<text id="t59" transform="translate(373.65 376.9) scale(0.95 1)" x="0" y="0" font-size="10.4" text-anchor="middle" >60</text>
<rect x="398.4" y="230.71" width="15.6" height="131.59" fill="url(#ge)"/>
<line x1="406.2" y1="227.41" x2="406.2" y2="234.01" stroke="#8a8a3a" stroke-width="1" />
<line x1="404.4" y1="227.41" x2="408" y2="227.41" stroke="#8a8a3a" stroke-width="1" />
<line x1="404.4" y1="234.01" x2="408" y2="234.01" stroke="#8a8a3a" stroke-width="1" />
<line x1="406.2" y1="362.3" x2="406.2" y2="365.3" stroke="#1a1a1a" stroke-width="1.2" />
<line x1="422.5" y1="362.3" x2="422.5" y2="364.3" stroke="#1a1a1a" stroke-width="1.2" />
<text id="t60" transform="translate(406.2 376.9) scale(0.95 1)" x="0" y="0" font-size="10.4" text-anchor="middle" >90</text>
<rect x="430.95" y="233.72" width="15.6" height="128.58" fill="url(#ge)"/>
<line x1="438.75" y1="229.13" x2="438.75" y2="238.32" stroke="#8a8a3a" stroke-width="1" />
<line x1="436.95" y1="229.13" x2="440.55" y2="229.13" stroke="#8a8a3a" stroke-width="1" />
<line x1="436.95" y1="238.32" x2="440.55" y2="238.32" stroke="#8a8a3a" stroke-width="1" />
<line x1="438.75" y1="362.3" x2="438.75" y2="365.3" stroke="#1a1a1a" stroke-width="1.2" />
<text id="t61" transform="translate(438.75 376.9) scale(0.95 1)" x="0" y="0" font-size="10.4" text-anchor="middle" >180</text>
<line x1="256.5" y1="362.3" x2="259.5" y2="362.3" stroke="#1a1a1a" stroke-width="1.2" />
<line x1="257.5" y1="326.43" x2="259.5" y2="326.43" stroke="#1a1a1a" stroke-width="1.2" />
<line x1="256.5" y1="290.55" x2="259.5" y2="290.55" stroke="#1a1a1a" stroke-width="1.2" />
<line x1="257.5" y1="254.68" x2="259.5" y2="254.68" stroke="#1a1a1a" stroke-width="1.2" />
<line x1="256.5" y1="218.8" x2="259.5" y2="218.8" stroke="#1a1a1a" stroke-width="1.2" />
<text id="t62" transform="translate(254 366.2) scale(0.95 1)" x="0" y="0" font-size="10.4" text-anchor="end" >0</text>
<text id="t63" transform="translate(254 294.45) scale(0.95 1)" x="0" y="0" font-size="10.4" text-anchor="end" >50</text>
<text id="t64" transform="translate(254 222.7) scale(0.95 1)" x="0" y="0" font-size="10.4" text-anchor="end" >100</text>
<text id="t65" x="356.5" y="386" font-size="10.2" text-anchor="middle" font-weight="normal" fill="#000" >days</text>
<text id="t66" x="239.5" y="285" font-size="10.3" text-anchor="middle" transform="rotate(-90 239.5 285)">Stability (%)</text>
<path d="M259.5,208.2 H455.0 V362.3 H259.5 Z" fill="none" stroke="#1a1a1a" stroke-width="1.3"/>
<text id="t67" x="476" y="214.2" font-size="9.5" text-anchor="start" font-weight="bold" fill="#000" >(f)</text>
<rect x="514" y="225.4" width="27.6" height="137" fill="url(#gf)"/>
<line x1="527.8" y1="223.32" x2="527.8" y2="227.49" stroke="#8a8a3a" stroke-width="1" />
<line x1="526" y1="223.32" x2="529.6" y2="223.32" stroke="#8a8a3a" stroke-width="1" />
<line x1="526" y1="227.49" x2="529.6" y2="227.49" stroke="#8a8a3a" stroke-width="1" />
<line x1="527.8" y1="362.4" x2="527.8" y2="365.4" stroke="#1a1a1a" stroke-width="1.2" />
<line x1="556.4" y1="362.4" x2="556.4" y2="364.4" stroke="#1a1a1a" stroke-width="1.2" />
<text id="t68" transform="translate(527.8 377) scale(0.95 1)" x="0" y="0" font-size="10.3" text-anchor="middle" >Serum 1</text>
<rect x="571.25" y="230.61" width="27.6" height="131.79" fill="url(#gf)"/>
<line x1="585.05" y1="228.53" x2="585.05" y2="232.69" stroke="#8a8a3a" stroke-width="1" />
<line x1="583.25" y1="228.53" x2="586.85" y2="228.53" stroke="#8a8a3a" stroke-width="1" />
<line x1="583.25" y1="232.69" x2="586.85" y2="232.69" stroke="#8a8a3a" stroke-width="1" />
<line x1="585.05" y1="362.4" x2="585.05" y2="365.4" stroke="#1a1a1a" stroke-width="1.2" />
<line x1="613.65" y1="362.4" x2="613.65" y2="364.4" stroke="#1a1a1a" stroke-width="1.2" />
<text id="t69" transform="translate(585.05 377) scale(0.95 1)" x="0" y="0" font-size="10.3" text-anchor="middle" >Serum 2</text>
<rect x="628.5" y="235.68" width="27.6" height="126.72" fill="url(#gf)"/>
<line x1="642.3" y1="230.09" x2="642.3" y2="241.28" stroke="#8a8a3a" stroke-width="1" />
<line x1="640.5" y1="230.09" x2="644.1" y2="230.09" stroke="#8a8a3a" stroke-width="1" />
<line x1="640.5" y1="241.28" x2="644.1" y2="241.28" stroke="#8a8a3a" stroke-width="1" />
<line x1="642.3" y1="362.4" x2="642.3" y2="365.4" stroke="#1a1a1a" stroke-width="1.2" />
<line x1="670.9" y1="362.4" x2="670.9" y2="364.4" stroke="#1a1a1a" stroke-width="1.2" />
<text id="t70" transform="translate(642.3 377) scale(0.95 1)" x="0" y="0" font-size="10.3" text-anchor="middle" >Serum 3</text>
<line x1="496" y1="362.4" x2="499" y2="362.4" stroke="#1a1a1a" stroke-width="1.2" />
<line x1="497" y1="329.88" x2="499" y2="329.88" stroke="#1a1a1a" stroke-width="1.2" />
<line x1="496" y1="297.35" x2="499" y2="297.35" stroke="#1a1a1a" stroke-width="1.2" />
<line x1="497" y1="264.82" x2="499" y2="264.82" stroke="#1a1a1a" stroke-width="1.2" />
<line x1="496" y1="232.3" x2="499" y2="232.3" stroke="#1a1a1a" stroke-width="1.2" />
<text id="t71" transform="translate(494.2 366.3) scale(0.95 1)" x="0" y="0" font-size="10.4" text-anchor="end" >0</text>
<text id="t72" transform="translate(494.2 301.25) scale(0.95 1)" x="0" y="0" font-size="10.4" text-anchor="end" >50</text>
<text id="t73" transform="translate(494.2 236.2) scale(0.95 1)" x="0" y="0" font-size="10.4" text-anchor="end" >100</text>
<text id="t74" x="476" y="283.5" font-size="10.4" text-anchor="middle" transform="rotate(-90 476 283.5)">Recovery (%)</text>
<path d="M499.0,206.5 H671.0 V362.4 H499.0 Z" fill="none" stroke="#1a1a1a" stroke-width="1.3"/>
</svg></body></html>
